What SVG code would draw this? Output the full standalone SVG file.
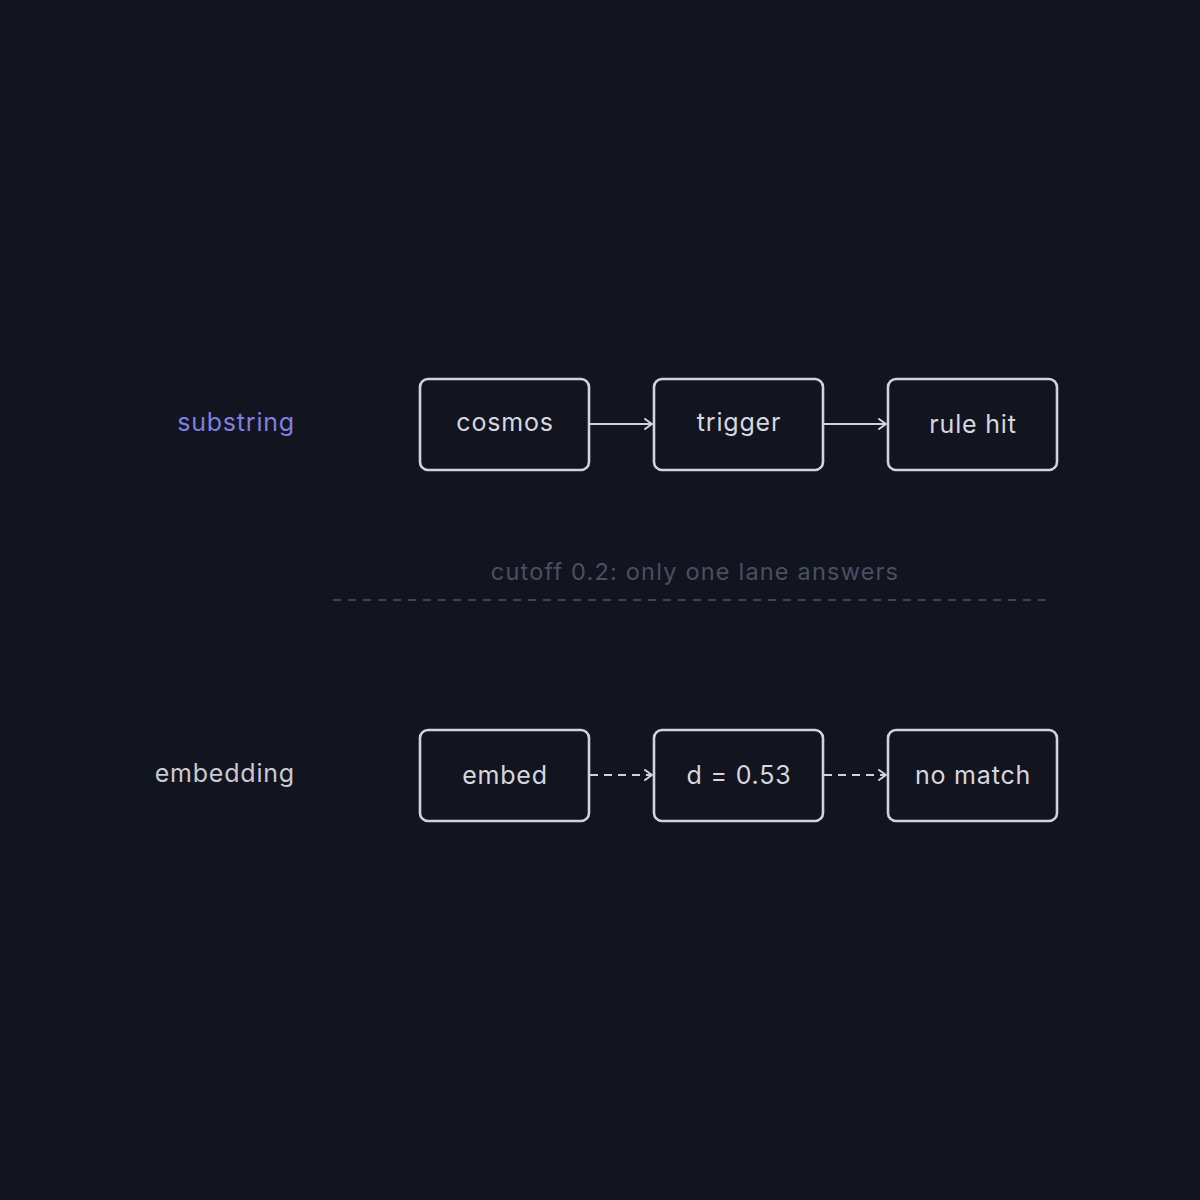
<svg xmlns="http://www.w3.org/2000/svg" width="1200" height="1200" viewBox="0 0 1200 1200">
<defs>
<marker id="ah" viewBox="0 0 12 12" refX="10" refY="6" markerWidth="12" markerHeight="12" markerUnits="userSpaceOnUse" orient="auto">
<path d="M3,1 L10,6 L3,11" fill="none" stroke="#d2d3da" stroke-width="2" stroke-linecap="round" stroke-linejoin="round"/>
</marker>
<style>
.box{fill:#12151f;stroke:#d2d3da;stroke-width:2.6}
.lbl{font-family:Inter,"Noto Sans",sans-serif;font-size:25px;letter-spacing:0.8px;fill:#d6d7de;text-anchor:middle}
.lane{font-family:Inter,"Noto Sans",sans-serif;font-size:25px;letter-spacing:0.8px;text-anchor:end}
.c{stroke:#d2d3da;stroke-width:2.2;fill:none}
.d{stroke-dasharray:8 6}
</style>
</defs>
<rect width="1200" height="1200" fill="#12151f"/>
<text class="lane" x="295" y="431" fill="#7f7fe0">substring</text>
<text class="lane" x="295" y="782" fill="#c9cad2">embedding</text>
<g id="n-cosmos"><rect class="box" x="420" y="379" width="169" height="91" rx="8"/><text class="lbl" x="505" y="431">cosmos</text></g>
<g id="n-trigger"><rect class="box" x="654" y="379" width="169" height="91" rx="8"/><text class="lbl" x="739" y="431">trigger</text></g>
<g id="n-rulehit"><rect class="box" x="888" y="379" width="169" height="91" rx="8"/><text class="lbl" x="973" y="433">rule hit</text></g>
<g id="n-embed"><rect class="box" x="420" y="730" width="169" height="91" rx="8"/><text class="lbl" x="505" y="784">embed</text></g>
<g id="n-d"><rect class="box" x="654" y="730" width="169" height="91" rx="8"/><text class="lbl" x="739" y="784">d = 0.53</text></g>
<g id="n-nomatch"><rect class="box" x="888" y="730" width="169" height="91" rx="8"/><text class="lbl" x="973" y="784">no match</text></g>
<g id="connectors">
<line class="c" x1="590" y1="424" x2="652" y2="424" marker-end="url(#ah)"/>
<line class="c" x1="824" y1="424" x2="886" y2="424" marker-end="url(#ah)"/>
<line class="c d" x1="590" y1="775" x2="652" y2="775" marker-end="url(#ah)"/>
<line class="c d" x1="824" y1="775" x2="886" y2="775" marker-end="url(#ah)"/>
</g>
<text x="695" y="580" font-family="Inter,'Noto Sans',sans-serif" font-size="23.5" letter-spacing="1.2" fill="#485062" text-anchor="middle">cutoff 0.2: only one lane answers</text>
<line x1="333" y1="600" x2="1050" y2="600" stroke="#3c4252" stroke-width="2.2" stroke-dasharray="8 7"/>
</svg>
